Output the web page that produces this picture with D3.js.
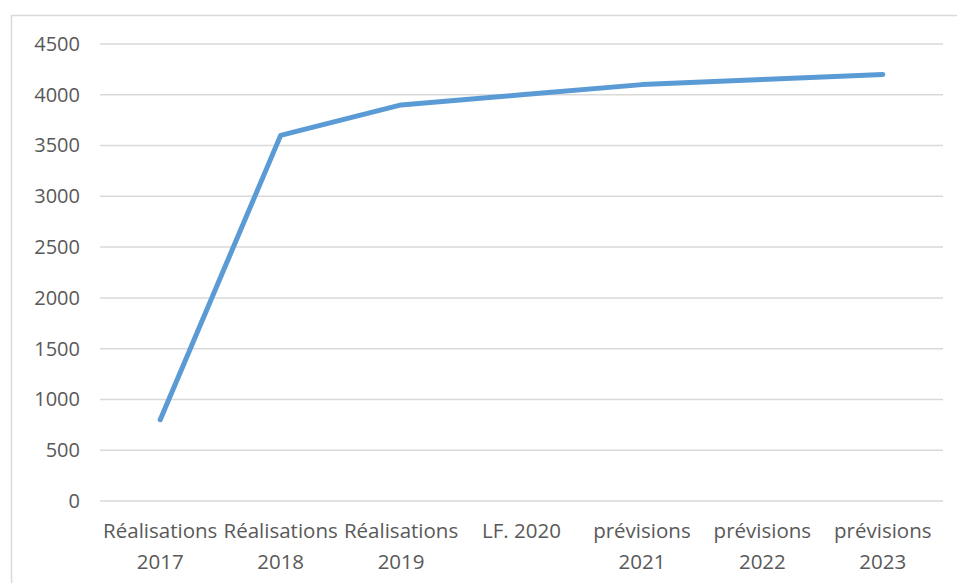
<!DOCTYPE html>
<html><head><meta charset="utf-8">
<script src="https://cdn.jsdelivr.net/npm/d3@7"></script>
<style>body{margin:0;background:#fff}</style>
</head><body>
<svg id="c" width="957" height="583"></svg>
<script>
const categories = [["Réalisations","2017"],["Réalisations","2018"],["Réalisations","2019"],["LF. 2020"],["prévisions","2021"],["prévisions","2022"],["prévisions","2023"]];
const values = [800, 3600, 3900, 4000, 4100, 4150, 4200];
const yTicks = [0,500,1000,1500,2000,2500,3000,3500,4000,4500];

const svg = d3.select("#c");
const font = "'Open Sans', sans-serif";
const txt = "#595959";
svg.append("rect").attr("x",11.5).attr("y",15.5).attr("width",960).attr("height",600)
  .attr("fill","#fff").attr("stroke","#d9d9d9").attr("stroke-width",1.5);

const x = d3.scaleBand().domain(d3.range(categories.length)).range([100,943]);
const y = d3.scaleLinear().domain([0,4500]).range([501,44]);

const grid = svg.append("g");
grid.selectAll("line").data(yTicks).join("line")
  .attr("x1",100).attr("x2",943).attr("y1",d=>y(d)).attr("y2",d=>y(d))
  .attr("stroke","#d9d9d9").attr("stroke-width",1.5);

const yAxis = svg.append("g").attr("transform","translate(80,0)")
  .call(d3.axisLeft(y).tickValues(yTicks).tickSize(0).tickPadding(0).tickFormat(d3.format("d")));
yAxis.select(".domain").remove();
yAxis.selectAll("text").attr("font-family",font).attr("font-size",20).attr("fill",txt);

const xl = svg.append("g");
categories.forEach((c,i)=>{
  const t = xl.append("text").attr("x",x(i)+x.bandwidth()/2).attr("text-anchor","middle")
    .attr("font-family",font).attr("font-size",20.5).attr("fill",txt);
  c.forEach((s,j)=>t.append("tspan").attr("x",x(i)+x.bandwidth()/2).attr("y",538+j*31).text(s));
});

const line = d3.line().x((d,i)=>x(i)+x.bandwidth()/2).y(d=>y(d));
svg.append("path").datum(values).attr("d",line).attr("fill","none")
  .attr("stroke","#5b9bd5").attr("stroke-width",5).attr("stroke-linecap","round").attr("stroke-linejoin","round");
</script>
</body></html>
